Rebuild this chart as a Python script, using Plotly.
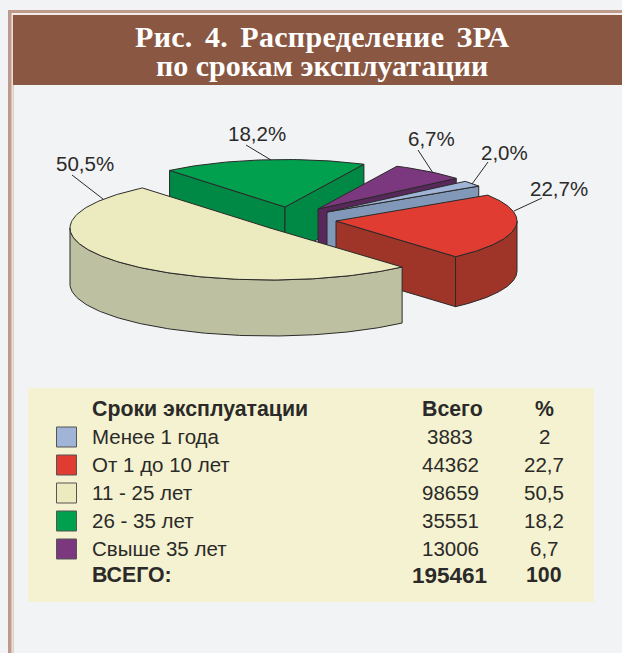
import math
import plotly.graph_objects as go

# ---- data ----
categories = ["Менее 1 года", "От 1 до 10 лет", "11 - 25 лет", "26 - 35 лет", "Свыше 35 лет"]
totals = [3883, 44362, 98659, 35551, 13006]
percents = [2.0, 22.7, 50.5, 18.2, 6.7]
percent_cells = ["2", "22,7", "50,5", "18,2", "6,7"]
grand_total = 195461
grand_percent = "100"
table_headers = ["Сроки эксплуатации", "Всего", "%"]
total_label = "ВСЕГО:"
title_lines = ["Рис. 4. Распределение ЗРА", "по срокам эксплуатации"]

# ---- style ----
top_colors = ["#9fb4d6", "#e03c32", "#ecebc0", "#00a04f", "#7b387e"]
wall_colors = ["#8298b8", "#9e3528", "#bec1a1", "#008845", "#58285c"]
centers = [(327, 212), (336, 221), (270, 228), (285, 207), (318, 209)]
radii = [(181, 47.5), (181, 47.5), (200, 52), (181, 47.5), (181, 47.5)]
depths = [50, 50, 56, 50, 50]
start_angle = 40.2
draw_order = [3, 4, 0, 1, 2]
label_pos = [(504, 152), (559, 188), (85, 163), (257, 133), (431, 138)]
leaders = [((488, 162), (472, 184)), ((542, 198), (514, 211)), ((72, 175), (103, 199)),
           ((246, 145), (271, 160)), ((418, 150), (433, 173))]
INK = "#2b2a29"
BG = "#f2f3f5"
HEADER = "#8a5742"
PANEL = "#f4f2d0"
W, H = 622, 653

fig = go.Figure()


def poly(xs, ys, fill):
    fig.add_trace(go.Scatter(x=xs, y=ys, mode="lines", fill="toself", fillcolor=fill,
                             line=dict(color=INK, width=1), hoverinfo="skip", showlegend=False))


def pt(i, deg):
    (cx, cy), (rx, ry) = centers[i], radii[i]
    a = math.radians(deg)
    return cx + rx * math.cos(a), cy - ry * math.sin(a)


def arc(i, a0, a1):
    n = max(2, int(abs(a1 - a0)) + 1)
    return [pt(i, a0 + (a1 - a0) * k / (n - 1)) for k in range(n)]


# slice angles from the values (clockwise from start_angle)
spans = []
cur = start_angle
for v in totals:
    sweep = 360.0 * v / sum(totals)
    spans.append((cur - sweep, cur))  # (low, high)
    cur -= sweep

for i in draw_order:
    lo, hi = spans[i]
    cx, cy = centers[i]
    d = depths[i]
    # radial walls that face the viewer
    for ang, normal in ((hi, hi + 90), (lo, lo - 90)):
        if math.sin(math.radians(normal)) < 0:
            ex, ey = pt(i, ang)
            poly([cx, ex, ex, cx, cx], [cy, ey, ey + d, cy + d, cy], wall_colors[i])
    # outer rim, front part only
    for k in (-1, 0, 1):
        a0, a1 = max(lo, 180 + 360 * k), min(hi, 360 + 360 * k)
        if a1 > a0:
            front = arc(i, a0, a1)
            xs = [p[0] for p in front] + [p[0] for p in reversed(front)]
            ys = [p[1] for p in front] + [p[1] + d for p in reversed(front)]
            poly(xs + xs[:1], ys + ys[:1], wall_colors[i])
    # top face
    top = arc(i, lo, hi)
    poly([cx] + [p[0] for p in top] + [cx], [cy] + [p[1] for p in top] + [cy], top_colors[i])

# leader lines
for (a, b) in leaders:
    fig.add_trace(go.Scatter(x=[a[0], b[0]], y=[a[1], b[1]], mode="lines",
                             line=dict(color=INK, width=1), hoverinfo="skip", showlegend=False))

annots = []


def text(x, y, s, size, bold=False, anchor="center", color=INK, family="Liberation Sans"):
    annots.append(dict(x=x, y=y, xref="x", yref="y", text=f"<b>{s}</b>" if bold else s,
                       showarrow=False, xanchor=anchor, yanchor="middle",
                       font=dict(family=family, size=size, color=color)))


for i, p in enumerate(percents):
    text(label_pos[i][0], label_pos[i][1], f"{p:.1f}".replace(".", ",") + "%", 20.5)

# table
TS = 20.5
TB = 21.3
LEFT = 90
ROW_Y = [437, 465, 493, 521, 549]
fig.add_trace(go.Scatter(x=[66.5] * len(categories), y=ROW_Y, mode="markers",
                         marker=dict(symbol="square", size=20, color=top_colors,
                                     line=dict(color="#555555", width=1)),
                         hoverinfo="skip", showlegend=False))
text(LEFT, 408.5, table_headers[0], TB, True, "left")
text(452, 408.5, table_headers[1], TB, True)
text(544, 408.5, table_headers[2], TB, True)
for i, y in enumerate(ROW_Y):
    text(LEFT, y - 1, categories[i], TS, False, "left")
    text(450, y - 1, str(totals[i]), TS)
    text(544, y - 1, percent_cells[i], TS)
text(LEFT, 575, total_label, TB, True, "left")
text(449.5, 575, str(grand_total), 22.5, True)
text(544, 575, grand_percent, TB, True)

# title
text(322, 36, f'<span style="word-spacing:4.5px;letter-spacing:0.3px">{title_lines[0]}</span>', 30, True,
     color="#ffffff", family="Liberation Serif")
text(322, 65, title_lines[1], 30, True, color="#ffffff", family="Liberation Serif")

shapes = [
    dict(type="rect", x0=8, x1=W + 5, y0=10, y1=H + 5, fillcolor="#bd9a8b", line_width=0, layer="below"),
    dict(type="rect", x0=11.5, x1=W + 5, y0=13, y1=H + 5, fillcolor="#f3ebe7", line_width=0, layer="below"),
    dict(type="rect", x0=12.5, x1=14, y0=15, y1=H + 5, fillcolor="#e3cfc6", line_width=0, layer="below"),
    dict(type="rect", x0=14, x1=W + 5, y0=15, y1=H + 5, fillcolor=BG, line_width=0, layer="below"),
    dict(type="rect", x0=13, x1=W + 5, y0=15, y1=85, fillcolor=HEADER, line_width=0, layer="below"),
    dict(type="rect", x0=28, x1=594, y0=388, y1=602, fillcolor=PANEL, line_width=0, layer="below"),
]

fig.update_layout(
    width=W, height=H, margin=dict(l=0, r=0, t=0, b=0),
    paper_bgcolor=BG, plot_bgcolor=BG, showlegend=False,
    xaxis=dict(range=[0, W], visible=False, fixedrange=True),
    yaxis=dict(range=[H, 0], visible=False, fixedrange=True),
    annotations=annots, shapes=shapes,
)
fig.write_html("out.html", config=dict(displayModeBar=False),
               post_script="document.body.style.margin='0';document.body.style.background='" + BG + "';document.documentElement.style.overflow='hidden';")
